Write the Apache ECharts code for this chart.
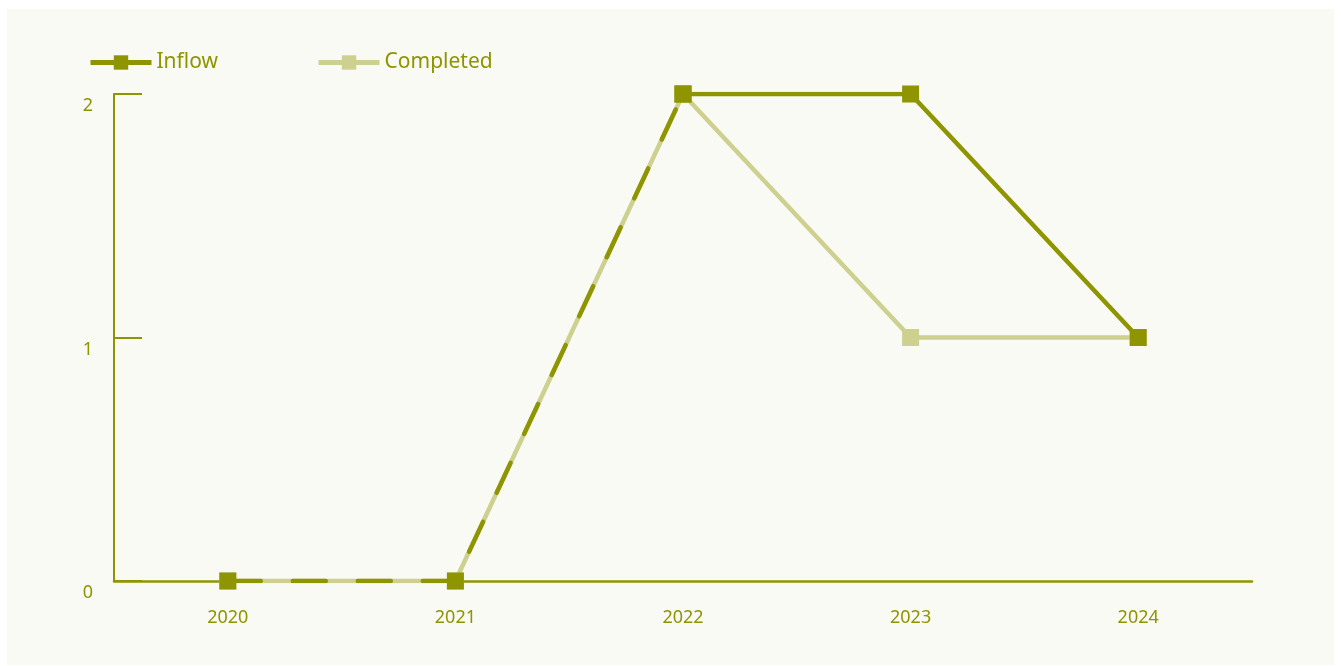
<!DOCTYPE html>
<html>
<head>
<meta charset="utf-8">
<script src="https://cdn.jsdelivr.net/npm/echarts@6/dist/echarts.min.js"></script>
<style>
html,body{margin:0;padding:0;background:#ffffff;}
#chart{width:1341px;height:666px;}
</style>
</head>
<body>
<div id="chart"></div>
<script>
const categories = ['2020', '2021', '2022', '2023', '2024'];
const inflowSolid = [null, null, 2, 2, 1];
const inflowDashed = [0, 0, 2, null, null];
const completed = [0, 0, 2, 1, 1];
const yTicks = [0, 1, 2];

const dark = '#8e9500';
const light = '#cdd08f';
const labelFont = "'Noto Sans', sans-serif";

const chart = echarts.init(document.getElementById('chart'));
chart.setOption({
  backgroundColor: 'transparent',
  animation: false,
  graphic: [{
    type: 'rect', z: -10, silent: true,
    shape: {x: 7, y: 9, width: 1327, height: 656},
    style: {fill: '#f9faf3'}
  }],
  legend: {
    left: 83, top: 47,
    itemWidth: 61, itemHeight: 18, itemGap: 98,
    data: ['Inflow', 'Completed'],
    lineStyle: {width: 5},
    textStyle: {color: dark, fontSize: 21, fontFamily: labelFont}
  },
  grid: {left: 114, right: 89, top: 94, bottom: 85},
  xAxis: {
    type: 'category',
    data: categories,
    boundaryGap: true,
    axisLine: {lineStyle: {color: dark, width: 2.5}},
    axisTick: {inside: true, length: 10, alignWithLabel: true, lineStyle: {color: dark, width: 2}},
    axisLabel: {color: dark, fontSize: 18, margin: 28, fontFamily: labelFont}
  },
  yAxis: {
    type: 'value',
    min: 0, max: 2, interval: 1,
    splitLine: {show: false},
    axisLine: {show: true, lineStyle: {color: dark, width: 2}},
    axisTick: {show: true, inside: true, length: 28, lineStyle: {color: dark, width: 2}},
    axisLabel: {
      color: dark, fontSize: 18, margin: 21, fontFamily: labelFont,
      verticalAlign: 'top', lineHeight: 24,
      formatter: function (v) { return yTicks.indexOf(v) >= 0 ? String(v) : ''; }
    }
  },
  series: [
    {
      name: 'Completed', type: 'line', data: completed,
      symbol: 'rect', symbolSize: 17,
      itemStyle: {color: light},
      lineStyle: {color: light, width: 4.5},
      z: 2
    },
    {
      name: 'Inflow', type: 'line', data: inflowSolid,
      symbol: 'rect', symbolSize: 17,
      itemStyle: {color: dark},
      lineStyle: {color: dark, width: 4.5},
      z: 3
    },
    {
      name: 'Inflow', type: 'line', data: inflowDashed,
      symbol: 'rect', symbolSize: 17,
      itemStyle: {color: dark},
      lineStyle: {color: dark, width: 4.5, type: [33, 32], cap: 'round'},
      z: 4
    }
  ]
});
</script>
</body>
</html>
